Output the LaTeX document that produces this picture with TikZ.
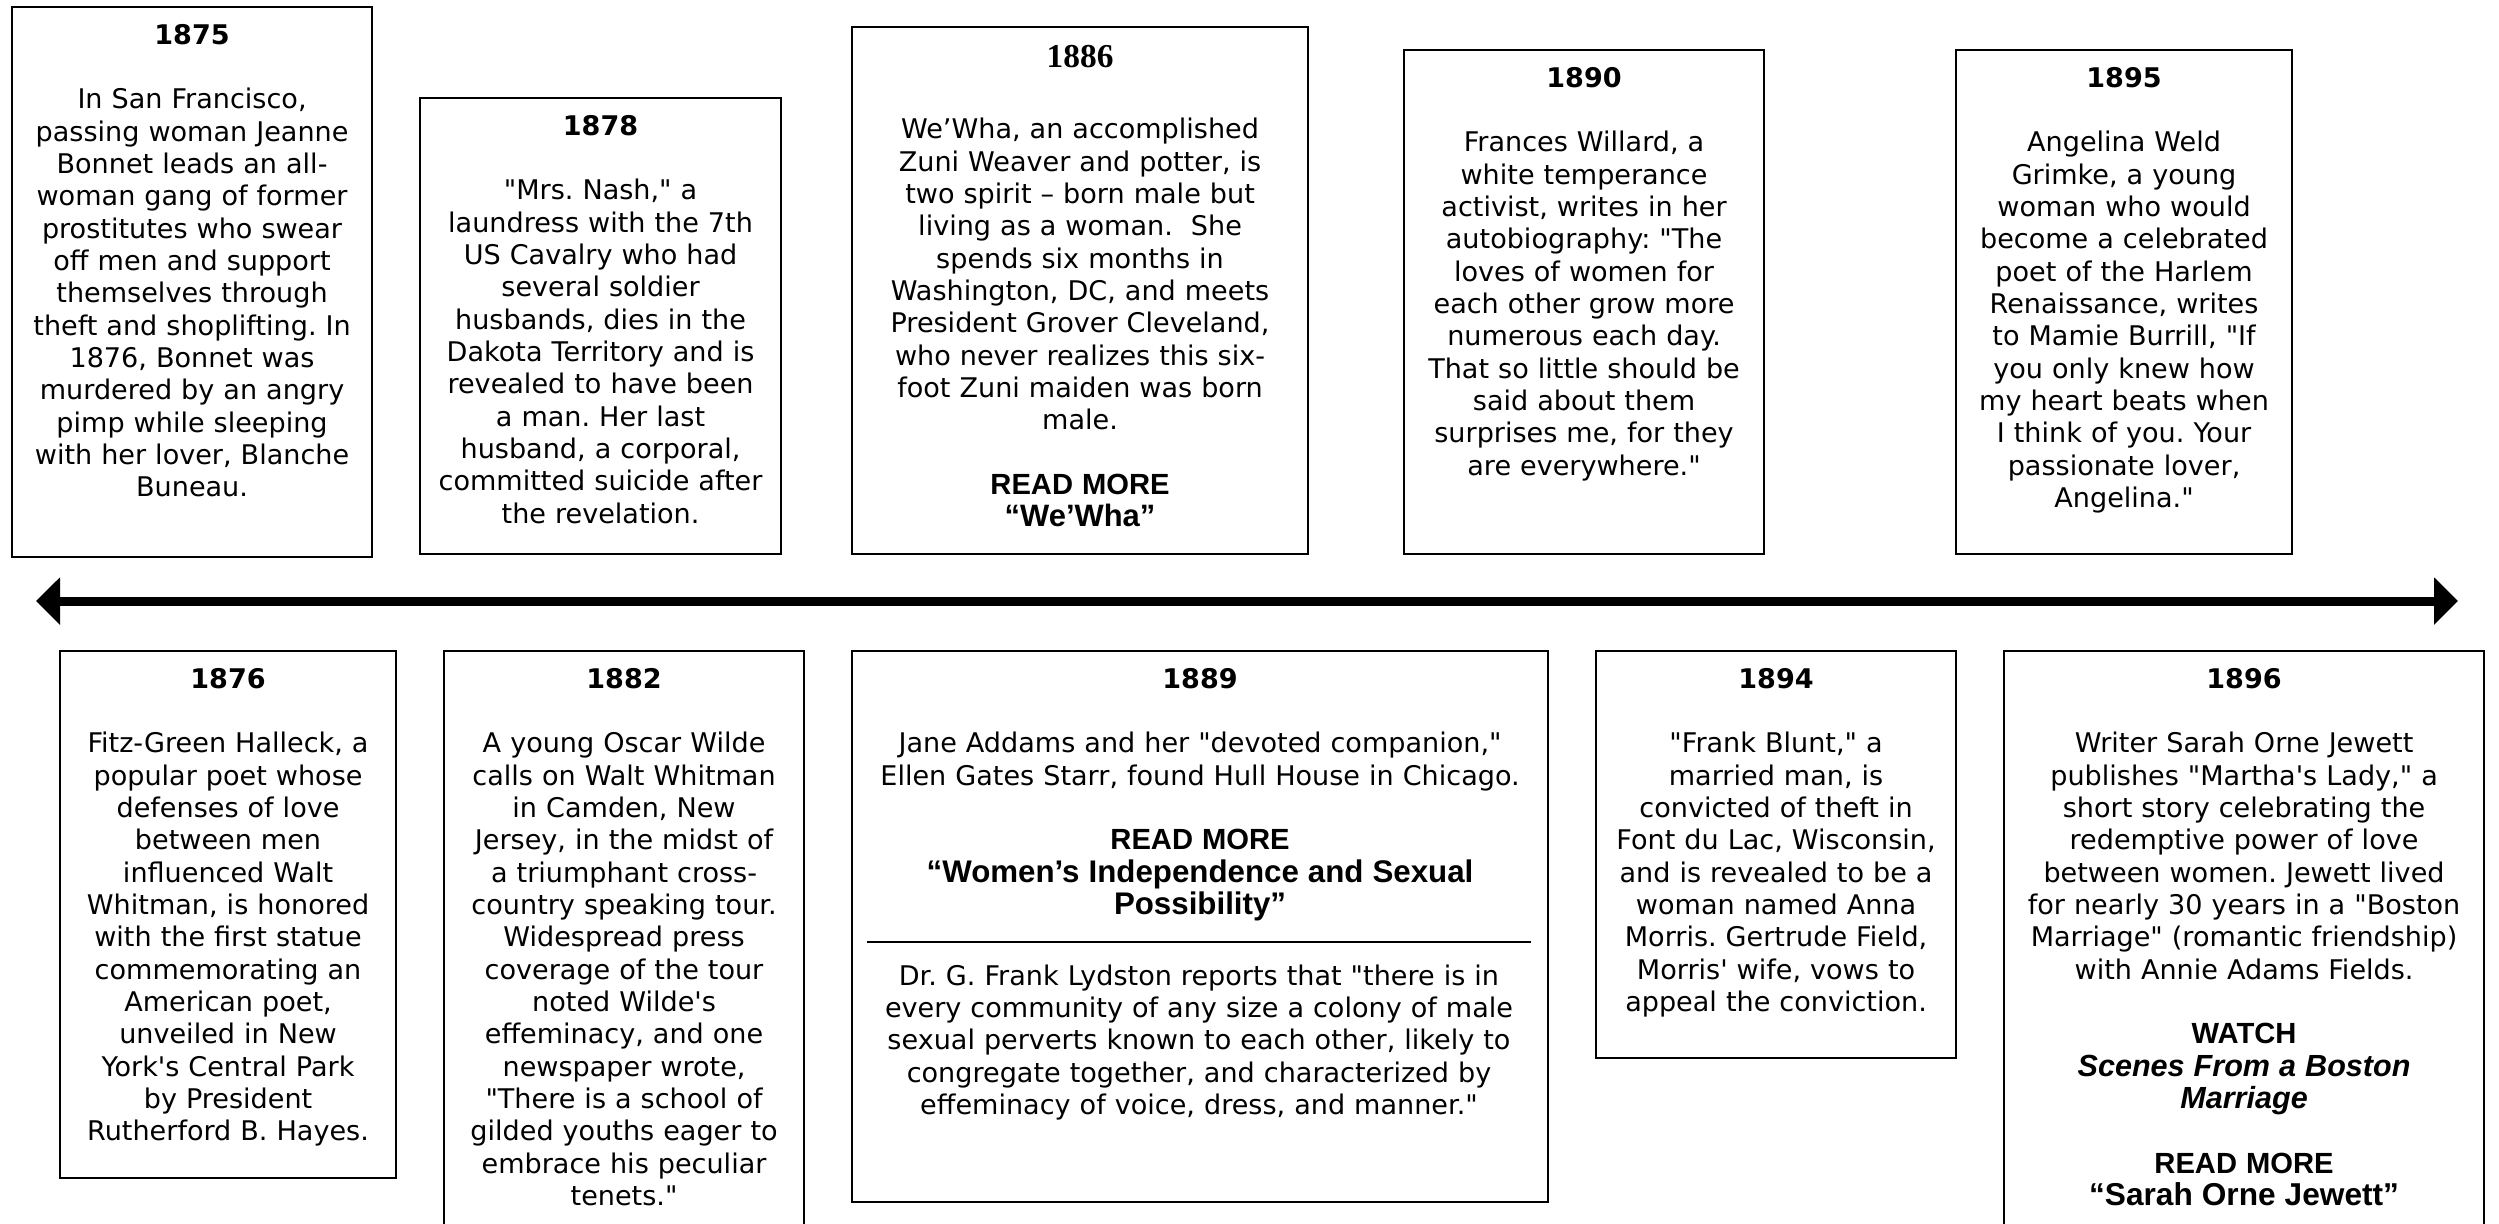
\documentclass[tikz,border=0pt]{standalone}
\usepackage{fontspec}
\setmainfont{DejaVu Sans}[Ligatures=TeXOff]
\newfontfamily\headfam{Liberation Sans}[Ligatures=TeXOff]
\newfontfamily\yrserif{Liberation Serif}[Ligatures=TeXOff]
\usetikzlibrary{arrows.meta}

\newcommand\bodyfont{\frenchspacing\fontsize{7.7pt}{9.2pt}\selectfont}
\newcommand\yr[1]{{\bfseries #1}}
\newcommand\hd[2][8.3pt]{{\headfam\bfseries\fontsize{#1}{9.2pt}\selectfont #2}}
\newcommand\gap{\\[9.2pt]}

\tikzset{
  >={Triangle[length=2.4mm,width=4.6mm]},
  evtbox/.style={draw, line width=0.6pt, anchor=north west, inner sep=0pt},
  evttext/.style={anchor=north, align=center, inner sep=0pt, font=\bodyfont},
}

\begin{document}
\begin{tikzpicture}
    \useasboundingbox (0,0) rectangle (24.99,-12.23);
    \clip (0,0) rectangle (24.99,-12.23);

    % the time line
    \coordinate (past) at (0.36,-6.01);
    \coordinate (future) at (24.58,-6.01);
    \draw[<->, line width=0.09cm] (past) -- (future);

    % upper row
    \node[evtbox, minimum width=3.60cm, minimum height=5.50cm] (b1875) at (0.11,-0.06) {};
    \node[evttext, text width=3.5cm] (t1875) at ([yshift=-0.175cm]b1875.north) {\yr{1875}\gap
      In San Francisco,\\ passing woman Jeanne\\ Bonnet leads an all-\\ woman gang of former\\
      prostitutes who swear\\ off men and support\\ themselves through\\ theft and shoplifting. In\\
      1876, Bonnet was\\ murdered by an angry\\ pimp while sleeping\\ with her lover, Blanche\\ Buneau.};

    \node[evtbox, minimum width=3.61cm, minimum height=4.56cm] (b1878) at (4.19,-0.97) {};
    \node[evttext, text width=3.5cm] (t1878) at ([yshift=-0.175cm]b1878.north) {\yr{1878}\gap
      "Mrs. Nash," a\\ laundress with the 7th\\ US Cavalry who had\\ several soldier\\
      husbands, dies in the\\ Dakota Territory and is\\ revealed to have been\\ a man. Her last\\
      husband, a corporal,\\ committed suicide after\\ the revelation.};

    \node[evtbox, minimum width=4.56cm, minimum height=5.27cm] (b1886) at (8.51,-0.26) {};
    \node[evttext, text width=4.4cm] (t1886) at ([yshift=-0.19cm]b1886.north) {{\yrserif\bfseries\fontsize{9.5pt}{9.2pt}\selectfont 1886}\\[11pt]
      We’Wha, an accomplished\\ Zuni Weaver and potter, is\\ two spirit – born male but\\ living as a woman.\ \ She\\
      spends six months in\\ Washington, DC, and meets\\ President Grover Cleveland,\\ who never realizes this six-\\
      foot Zuni maiden was born\\ male.\gap
      \hd{READ MORE}\\ \hd[8.8pt]{“We’Wha”}};

    \node[evtbox, minimum width=3.60cm, minimum height=5.04cm] (b1890) at (14.03,-0.49) {};
    \node[evttext, text width=3.5cm] (t1890) at ([yshift=-0.175cm]b1890.north) {\yr{1890}\gap
      Frances Willard, a\\ white temperance\\ activist, writes in her\\ autobiography: "The\\
      loves of women for\\ each other grow more\\ numerous each day.\\ That so little should be\\
      said about them\\ surprises me, for they\\ are everywhere."};

    \node[evtbox, minimum width=3.36cm, minimum height=5.04cm] (b1895) at (19.55,-0.49) {};
    \node[evttext, text width=3.3cm] (t1895) at ([yshift=-0.175cm]b1895.north) {\yr{1895}\gap
      Angelina Weld\\ Grimke, a young\\ woman who would\\ become a celebrated\\ poet of the Harlem\\
      Renaissance, writes\\ to Mamie Burrill, "If\\ you only knew how\\ my heart beats when\\
      I think of you. Your\\ passionate lover,\\ Angelina."};

    % lower row
    \node[evtbox, minimum width=3.36cm, minimum height=5.27cm] (b1876) at (0.59,-6.50) {};
    \node[evttext, text width=3.3cm] (t1876) at ([yshift=-0.175cm]b1876.north) {\yr{1876}\gap
      Fitz-Green Halleck, a\\ popular poet whose\\ defenses of love\\ between men\\ influenced Walt\\
      Whitman, is honored\\ with the first statue\\ commemorating an\\ American poet,\\ unveiled in New\\
      York's Central Park\\ by President\\ Rutherford B. Hayes.};

    \node[evtbox, minimum width=3.60cm, minimum height=6.00cm] (b1882) at (4.43,-6.50) {};
    \node[evttext, text width=3.5cm] (t1882) at ([yshift=-0.175cm]b1882.north) {\yr{1882}\gap
      A young Oscar Wilde\\ calls on Walt Whitman\\ in Camden, New\\ Jersey, in the midst of\\
      a triumphant cross-\\ country speaking tour.\\ Widespread press\\ coverage of the tour\\
      noted Wilde's\\ effeminacy, and one\\ newspaper wrote,\\ "There is a school of\\
      gilded youths eager to\\ embrace his peculiar\\ tenets."};

    \node[evtbox, minimum width=6.96cm, minimum height=5.51cm] (b1889) at (8.51,-6.50) {};
    \node[evttext, text width=6.8cm] (t1889) at ([yshift=-0.175cm]b1889.north) {\yr{1889}\gap
      Jane Addams and her "devoted companion,"\\ Ellen Gates Starr, found Hull House in Chicago.\gap
      \hd{READ MORE}\\ \hd[8.9pt]{“Women’s Independence and Sexual}\\ \hd[8.9pt]{Possibility”}};
    \coordinate (cut1) at (8.67,-9.42);
    \coordinate (cut2) at (15.31,-9.42);
    \draw[line width=0.8pt] (cut1) -- (cut2);
    \node[evttext, text width=6.8cm] (t1889b) at (11.99,-9.64) {Dr. G. Frank Lydston reports that "there is in\\
      every community of any size a colony of male\\ sexual perverts known to each other, likely to\\
      congregate together, and characterized by\\ effeminacy of voice, dress, and manner."};

    \node[evtbox, minimum width=3.60cm, minimum height=4.07cm] (b1894) at (15.95,-6.50) {};
    \node[evttext, text width=3.5cm] (t1894) at ([yshift=-0.175cm]b1894.north) {\yr{1894}\gap
      "Frank Blunt," a\\ married man, is\\ convicted of theft in\\ Font du Lac, Wisconsin,\\
      and is revealed to be a\\ woman named Anna\\ Morris. Gertrude Field,\\ Morris' wife, vows to\\
      appeal the conviction.};

    \node[evtbox, minimum width=4.80cm, minimum height=6.00cm] (b1896) at (20.03,-6.50) {};
    \node[evttext, text width=4.7cm] (t1896) at ([yshift=-0.175cm]b1896.north) {\yr{1896}\gap
      Writer Sarah Orne Jewett\\ publishes "Martha's Lady," a\\ short story celebrating the\\
      redemptive power of love\\ between women. Jewett lived\\ for nearly 30 years in a "Boston\\
      Marriage" (romantic friendship)\\ with Annie Adams Fields.\gap
      \hd{WATCH}\\ \hd[8.7pt]{\itshape Scenes From a Boston}\\ \hd[8.7pt]{\itshape Marriage}\gap
      \hd{READ MORE}\\ \hd[9pt]{“Sarah Orne Jewett”}};
\end{tikzpicture}
\end{document}
